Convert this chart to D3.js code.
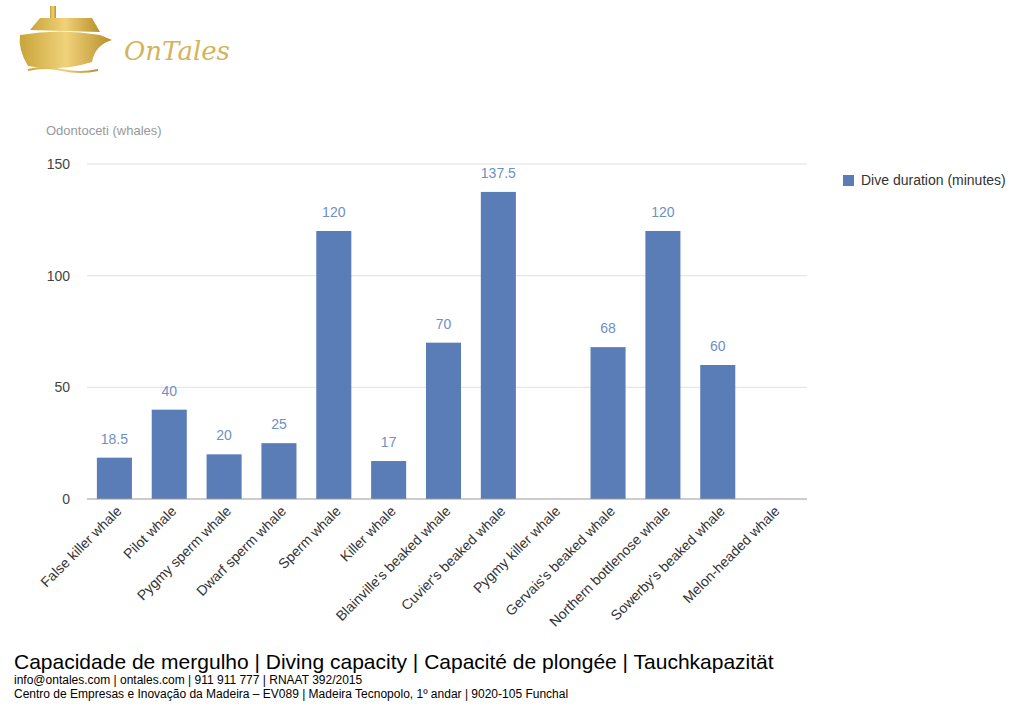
<!DOCTYPE html>
<html><head><meta charset="utf-8">
<script src="https://cdn.jsdelivr.net/npm/d3@7"></script>
<style>body{margin:0;background:#fff;font-family:"Liberation Sans",Arial,sans-serif}</style>
</head><body>
<svg id="chart" width="1024" height="709"></svg>
<script>
var categories = ["False killer whale","Pilot whale","Pygmy sperm whale","Dwarf sperm whale","Sperm whale","Killer whale","Blainville's beaked whale","Cuvier's beaked whale","Pygmy killer whale","Gervais's beaked whale","Northern bottlenose whale","Sowerby's beaked whale","Melon-headed whale"];
var diveMinutes = [18.5,40,20,25,120,17,70,137.5,null,68,120,60,null];
var yTicks = [0,50,100,150];

var svg = d3.select("#chart");

// logo
var gold = svg.append("defs").append("linearGradient").attr("id","gold").attr("x1","0").attr("x2","1");
gold.append("stop").attr("offset","0").attr("stop-color","#c9a43a");
gold.append("stop").attr("offset","0.5").attr("stop-color","#f0d27a");
gold.append("stop").attr("offset","1").attr("stop-color","#b88f2a");
var logo = svg.append("g");
logo.append("path").attr("d","M20,35 Q60,28 100,35 L112,40 Q95,45 92,62 Q60,72 28,66 Q18,50 20,35 Z").attr("fill","url(#gold)");
logo.append("path").attr("d","M30,30 L40,18 L92,18 L100,32 Z").attr("fill","url(#gold)");
logo.append("rect").attr("x",50).attr("y",6).attr("width",6).attr("height",12).attr("fill","url(#gold)");
logo.append("path").attr("d","M28,70 Q45,66 62,70 Q80,74 98,70").attr("fill","none").attr("stroke","url(#gold)").attr("stroke-width",2);
logo.append("text").attr("x",124).attr("y",60).attr("font-family","DejaVu Serif").attr("font-style","italic")
  .attr("font-size",26).attr("fill","#d4b45a").text("OnTales");

var margin = {left:87, right:807, top:164, bottom:499};
var x = d3.scaleBand().domain(categories).range([87, 800]).paddingInner(0.361).paddingOuter(0.18);
var y = d3.scaleLinear().domain([0,150]).range([margin.bottom, margin.top]);

svg.append("text").attr("x",46).attr("y",135).attr("font-size",13).attr("fill","#999").text("Odontoceti (whales)");

svg.append("g").selectAll("line").data(yTicks.slice(1)).enter().append("line")
  .attr("x1",margin.left).attr("x2",margin.right).attr("y1",y).attr("y2",y).attr("stroke","#e0e0e0");
svg.append("g").selectAll("text").data(yTicks).enter().append("text")
  .attr("x",70).attr("y",function(d){return y(d)+5}).attr("text-anchor","end")
  .attr("font-size",14).attr("fill","#444").text(function(d){return d});

var data = categories.map(function(c,i){return {c:c,v:diveMinutes[i]}}).filter(function(d){return d.v!=null});
svg.append("g").selectAll("rect").data(data).enter().append("rect")
  .attr("x",function(d){return x(d.c)}).attr("width",x.bandwidth())
  .attr("y",function(d){return y(d.v)}).attr("height",function(d){return y(0)-y(d.v)})
  .attr("fill","#5a7db8");
svg.append("g").selectAll("text").data(data).enter().append("text")
  .attr("x",function(d){return x(d.c)+x.bandwidth()/2}).attr("y",function(d){return y(d.v)-14})
  .attr("text-anchor","middle").attr("font-size",14).attr("fill","#6e8fc6").text(function(d){return d.v});

svg.append("line").attr("x1",margin.left).attr("x2",margin.right).attr("y1",y(0)).attr("y2",y(0)).attr("stroke","#999");

svg.append("g").selectAll("text").data(categories).enter().append("text")
  .attr("transform",function(d){return "translate("+(x(d)+x.bandwidth()/2+8)+",512) rotate(-45)"})
  .attr("text-anchor","end").attr("font-size",14).attr("fill","#333").text(function(d){return d});

svg.append("rect").attr("x",843).attr("y",175).attr("width",11).attr("height",11).attr("fill","#5a7db8");
svg.append("text").attr("x",861).attr("y",185).attr("font-size",14).attr("fill","#333").text("Dive duration (minutes)");

svg.append("text").attr("x",14).attr("y",669).attr("font-size",21).attr("fill","#000")
  .text("Capacidade de mergulho | Diving capacity | Capacité de plongée | Tauchkapazität");
svg.append("text").attr("x",14).attr("y",684).attr("font-size",12).attr("fill","#000")
  .text("info@ontales.com | ontales.com | 911 911 777 | RNAAT 392/2015");
svg.append("text").attr("x",14).attr("y",698).attr("font-size",12).attr("fill","#000")
  .text("Centro de Empresas e Inovação da Madeira – EV089 | Madeira Tecnopolo, 1º andar | 9020-105 Funchal");
</script>
</body></html>
